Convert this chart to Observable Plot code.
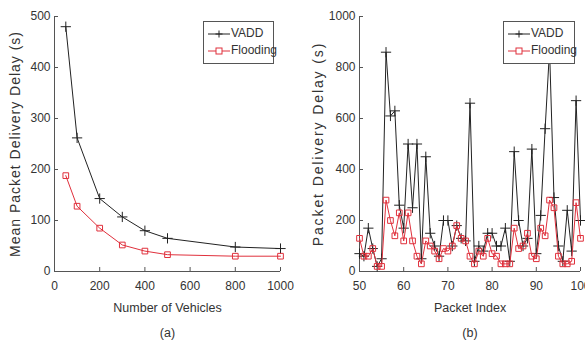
<!DOCTYPE html>
<html><head><meta charset="utf-8">
<script src="https://cdn.jsdelivr.net/npm/d3@7"></script>
<script src="https://cdn.jsdelivr.net/npm/@observablehq/plot@0.6"></script>
<style>
body{margin:0;background:#fff;}
#wrap{position:relative;width:585px;height:346px;overflow:hidden;font-family:"Liberation Sans",Arial,sans-serif;}
.panel{position:absolute;top:0;}
.legend{position:absolute;background:#fff;border:1px solid #555;font-size:12px;color:#333;box-sizing:border-box;padding:3px 0 0 3px;line-height:17px;white-space:nowrap;}
.legend svg{vertical-align:middle;margin-right:0px;}
</style></head>
<body>
<div id="wrap">
  <div class="panel" id="pa" style="left:0"></div>
  <div class="panel" id="pb" style="left:290px"></div>
  <div class="legend" style="left:203px;top:21px;width:71px;height:43px" id="lega"></div>
  <div class="legend" style="left:503px;top:21px;width:72px;height:43px" id="legb"></div>
</div>
<script>
// Panel (a)
const vehicles = [50, 100, 200, 300, 400, 500, 800, 1000];
const vaddMean = [480, 262, 143, 107, 80, 65, 48, 45];
const floodMean = [188, 128, 85, 52, 40, 33, 30, 30];
const xTicksA = [0, 200, 400, 600, 800, 1000];
const yTicksA = [0, 100, 200, 300, 400, 500];

// Panel (b)
const packetIndex = [50,51,52,53,54,55,56,57,58,59,60,61,62,63,64,65,66,67,68,69,70,71,72,73,74,75,76,77,78,79,80,81,82,83,84,85,86,87,88,89,90,91,92,93,94,95,96,97,98,99,100];
const vaddDelay = [70,60,170,90,20,50,860,610,630,260,170,500,250,500,50,450,150,100,60,200,200,100,180,130,120,660,40,100,80,150,150,100,100,170,40,470,200,100,130,480,70,220,560,870,290,100,40,240,80,670,200];
const floodDelay = [130,60,60,90,20,20,280,200,140,230,120,230,120,60,30,120,100,80,50,90,80,100,180,130,120,60,30,80,60,130,70,60,30,30,30,170,90,100,150,60,50,170,140,280,250,60,30,30,40,270,130];
const xTicksB = [50, 60, 70, 80, 90, 100];
const yTicksB = [0, 200, 400, 600, 800, 1000];

const BLACK = "#222";
const RED = "#e0303c";
const AXIS = "#555";
const FONT = '"Liberation Sans", Arial, sans-serif';

const tableA = vehicles.map((v, i) => ({x: v, vadd: vaddMean[i], flood: floodMean[i]}));
const tableB = packetIndex.map((v, i) => ({x: v, vadd: vaddDelay[i], flood: floodDelay[i]}));

function panel({data, width, marginLeft, marginRight, xDomain, yDomain, xTicks, yTicks, xLabel, yLabel, caption, yLabelDx, yLabelSpacing}) {
  const svg = Plot.plot({
    width, height: 346,
    marginLeft, marginRight, marginTop: 16, marginBottom: 75,
    style: {fontFamily: FONT, fontSize: "12px", color: "#333", background: "transparent", overflow: "visible"},
    x: {domain: xDomain},
    y: {domain: yDomain},
    marks: [
      Plot.ruleX([xDomain[0]], {stroke: AXIS}),
      Plot.ruleY([yDomain[0]], {stroke: AXIS}),
      Plot.axisX({ticks: xTicks, tickSize: -4, tickPadding: 14, stroke: AXIS, tickFormat: d3.format("d"), label: null, fontSize: 12}),
      Plot.axisY({ticks: yTicks, tickSize: -4, tickPadding: 8, stroke: AXIS, tickFormat: d3.format("d"), label: null, fontSize: 12}),
      Plot.line(data, {x: "x", y: "vadd", stroke: BLACK, strokeWidth: 1}),
      Plot.dot(data, {x: "x", y: "vadd", symbol: "plus", r: 3.4, stroke: BLACK, strokeWidth: 1}),
      Plot.line(data, {x: "x", y: "flood", stroke: RED, strokeWidth: 1}),
      Plot.dot(data, {x: "x", y: "flood", symbol: "square", r: 3.2, stroke: RED, fill: "none", strokeWidth: 1}),
      Plot.text([xLabel], {text: d => d, frameAnchor: "bottom", dy: 40, fontSize: 12.5, fill: "#333"}),
      Plot.text([caption], {text: d => d, frameAnchor: "bottom", dy: 65, fontSize: 12.5, fill: "#333"}),
      Plot.text([yLabel], {text: d => d, frameAnchor: "left", textAnchor: "middle", dx: yLabelDx, rotate: -90, fontSize: 14, fill: "#333", className: "ylab"})
    ]
  });
  d3.select(svg).selectAll(".ylab text").style("letter-spacing", yLabelSpacing + "px");
  return svg;
}

const A = panel({data: tableA, width: 292, marginLeft: 54, marginRight: 12, xDomain: [0, 1000], yDomain: [0, 500], xTicks: xTicksA, yTicks: yTicksA, xLabel: "Number of Vehicles", yLabel: "Mean Packet Delivery Delay (s)", caption: "(a)", yLabelDx: -39, yLabelSpacing: 1});
const B = panel({data: tableB, width: 295, marginLeft: 69, marginRight: 5, xDomain: [50, 100], yDomain: [0, 1000], xTicks: xTicksB, yTicks: yTicksB, xLabel: "Packet Index", yLabel: "Packet Delivery Delay (s)", caption: "(b)", yLabelDx: -41, yLabelSpacing: 1.9});

document.getElementById("pa").appendChild(A);
document.getElementById("pb").appendChild(B);

function legendHTML() {
  return `<div><svg width="24" height="10"><line x1="1" y1="5" x2="23" y2="5" stroke="${BLACK}"/><line x1="8.5" y1="5" x2="15.5" y2="5" stroke="${BLACK}"/><line x1="12" y1="1.5" x2="12" y2="8.5" stroke="${BLACK}"/></svg>VADD</div>` +
         `<div><svg width="24" height="10"><line x1="1" y1="5" x2="23" y2="5" stroke="${RED}"/><rect x="9" y="2" width="6" height="6" fill="#fff" stroke="${RED}"/></svg>Flooding</div>`;
}
document.getElementById("lega").innerHTML = legendHTML();
document.getElementById("legb").innerHTML = legendHTML();
</script>
</body></html>
